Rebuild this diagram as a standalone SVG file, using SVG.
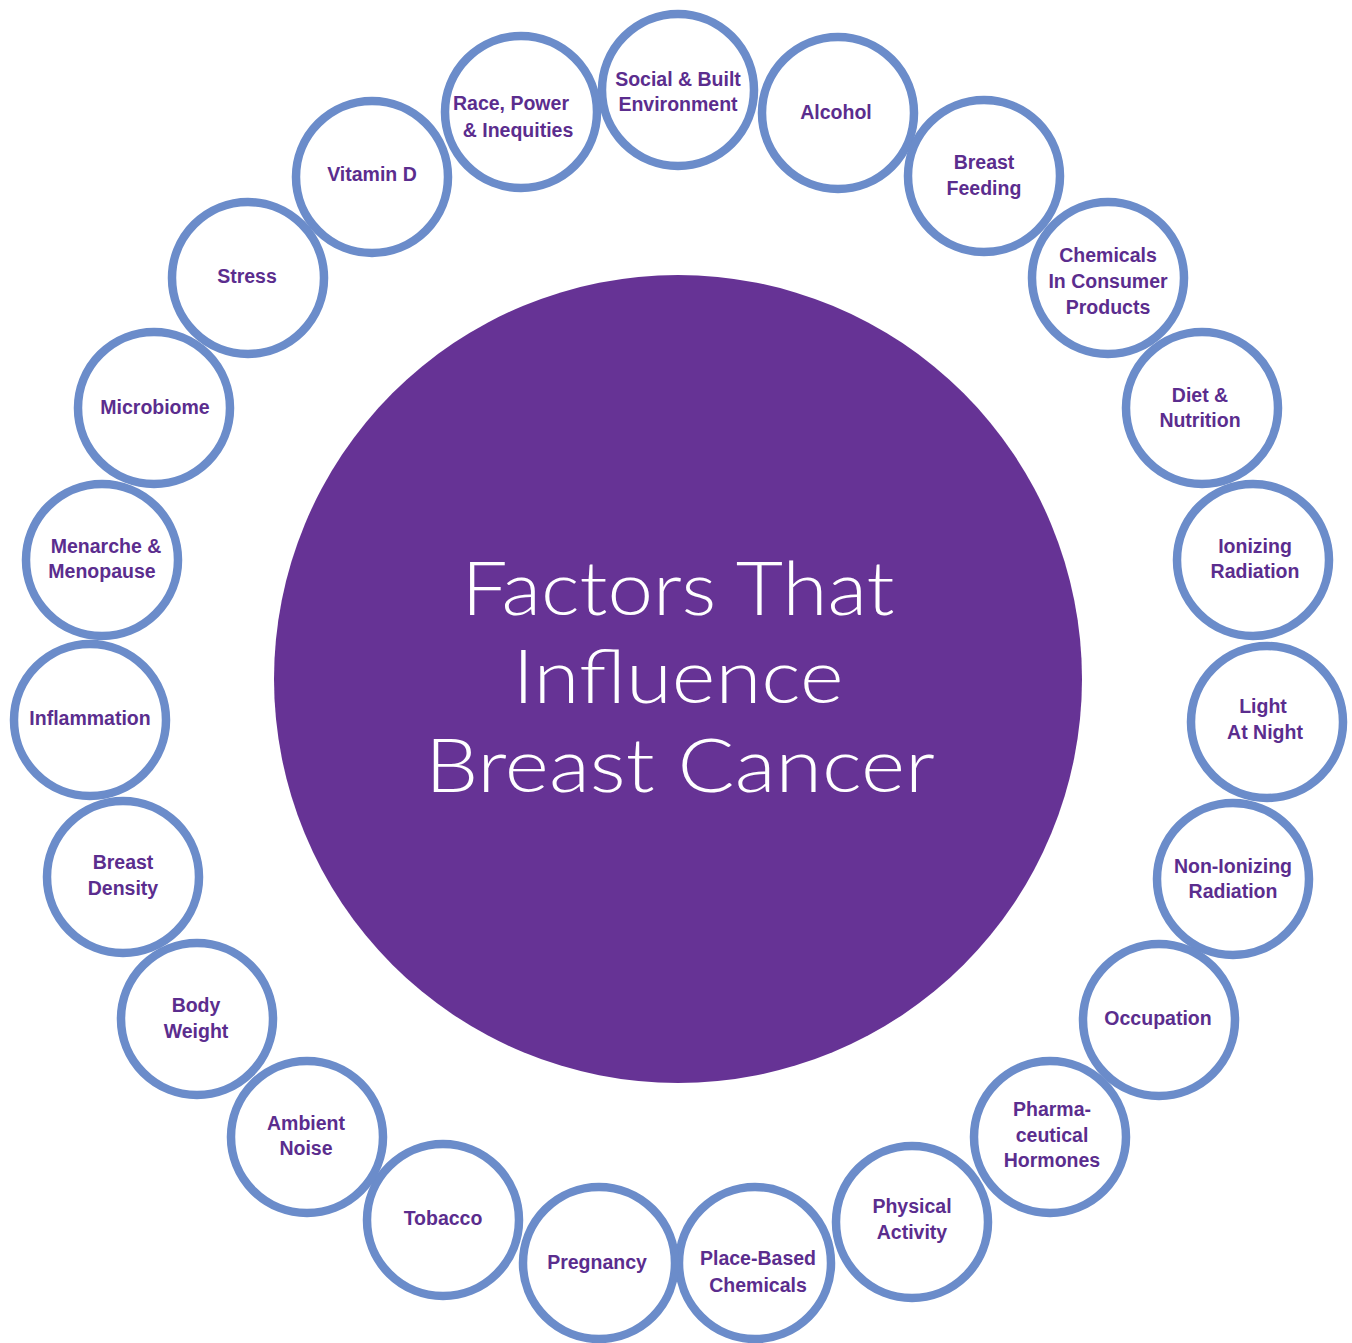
<svg xmlns="http://www.w3.org/2000/svg" width="1352" height="1343" viewBox="0 0 1352 1343">
<style>
.ring{fill:#ffffff;stroke:#6b8cca;stroke-width:8.5}
.lbl{font-family:"Liberation Sans",Arial,sans-serif;font-weight:bold;font-size:19.5px;fill:#5b2d8e;text-anchor:middle}
.title{font-family:Lato,"Open Sans","Liberation Sans",sans-serif;font-weight:300;font-size:75px;fill:#ffffff;text-anchor:middle}
</style>
<rect width="1352" height="1343" fill="#ffffff"/>
<g id="center">
<circle cx="678" cy="679" r="404" fill="#663395"/>
<text class="title"><tspan x="678" y="615" textLength="433" lengthAdjust="spacingAndGlyphs">Factors That</tspan><tspan x="678" y="703" textLength="331" lengthAdjust="spacingAndGlyphs">Influence</tspan><tspan x="680" y="792" textLength="510" lengthAdjust="spacingAndGlyphs">Breast Cancer</tspan></text>
</g>
<g id="n-social"><circle class="ring" cx="678" cy="90" r="76"/><text class="lbl"><tspan x="678" y="86">Social &amp; Built</tspan><tspan x="678" y="111">Environment</tspan></text></g>
<g id="n-alcohol"><circle class="ring" cx="838" cy="113" r="76"/><text class="lbl"><tspan x="836" y="119">Alcohol</tspan></text></g>
<g id="n-breastfeeding"><circle class="ring" cx="984" cy="176" r="76"/><text class="lbl"><tspan x="984" y="169">Breast</tspan><tspan x="984" y="195">Feeding</tspan></text></g>
<g id="n-chemicals"><circle class="ring" cx="1108" cy="278" r="76"/><text class="lbl"><tspan x="1108" y="262">Chemicals</tspan><tspan x="1108" y="288">In Consumer</tspan><tspan x="1108" y="314">Products</tspan></text></g>
<g id="n-diet"><circle class="ring" cx="1202" cy="408" r="76"/><text class="lbl"><tspan x="1200" y="402">Diet &amp;</tspan><tspan x="1200" y="427">Nutrition</tspan></text></g>
<g id="n-ionizing"><circle class="ring" cx="1253" cy="560" r="76"/><text class="lbl"><tspan x="1255" y="553">Ionizing</tspan><tspan x="1255" y="578">Radiation</tspan></text></g>
<g id="n-light"><circle class="ring" cx="1267" cy="722" r="76"/><text class="lbl"><tspan x="1263" y="713">Light</tspan><tspan x="1265" y="739">At Night</tspan></text></g>
<g id="n-nonionizing"><circle class="ring" cx="1233" cy="879" r="76"/><text class="lbl"><tspan x="1233" y="873">Non-Ionizing</tspan><tspan x="1233" y="898">Radiation</tspan></text></g>
<g id="n-occupation"><circle class="ring" cx="1159" cy="1020" r="76"/><text class="lbl"><tspan x="1158" y="1025">Occupation</tspan></text></g>
<g id="n-pharma"><circle class="ring" cx="1050" cy="1137" r="76"/><text class="lbl"><tspan x="1052" y="1116">Pharma-</tspan><tspan x="1052" y="1142">ceutical</tspan><tspan x="1052" y="1167">Hormones</tspan></text></g>
<g id="n-physical"><circle class="ring" cx="912" cy="1222" r="76"/><text class="lbl"><tspan x="912" y="1213">Physical</tspan><tspan x="912" y="1239">Activity</tspan></text></g>
<g id="n-placebased"><circle class="ring" cx="755" cy="1263" r="76"/><text class="lbl"><tspan x="758" y="1265">Place-Based</tspan><tspan x="758" y="1292">Chemicals</tspan></text></g>
<g id="n-pregnancy"><circle class="ring" cx="599" cy="1263" r="76"/><text class="lbl"><tspan x="597" y="1269">Pregnancy</tspan></text></g>
<g id="n-tobacco"><circle class="ring" cx="443" cy="1220" r="76"/><text class="lbl"><tspan x="443" y="1225">Tobacco</tspan></text></g>
<g id="n-ambient"><circle class="ring" cx="307" cy="1137" r="76"/><text class="lbl"><tspan x="306" y="1130">Ambient</tspan><tspan x="306" y="1155">Noise</tspan></text></g>
<g id="n-bodyweight"><circle class="ring" cx="197" cy="1019" r="76"/><text class="lbl"><tspan x="196" y="1012">Body</tspan><tspan x="196" y="1038">Weight</tspan></text></g>
<g id="n-density"><circle class="ring" cx="123" cy="877" r="76"/><text class="lbl"><tspan x="123" y="869">Breast</tspan><tspan x="123" y="895">Density</tspan></text></g>
<g id="n-inflammation"><circle class="ring" cx="90" cy="720" r="76"/><text class="lbl"><tspan x="90" y="725">Inflammation</tspan></text></g>
<g id="n-menarche"><circle class="ring" cx="102" cy="560" r="76"/><text class="lbl"><tspan x="106" y="553">Menarche &amp;</tspan><tspan x="102" y="578">Menopause</tspan></text></g>
<g id="n-microbiome"><circle class="ring" cx="154" cy="408" r="76"/><text class="lbl"><tspan x="155" y="414">Microbiome</tspan></text></g>
<g id="n-stress"><circle class="ring" cx="248" cy="278" r="76"/><text class="lbl"><tspan x="247" y="283">Stress</tspan></text></g>
<g id="n-vitamind"><circle class="ring" cx="372" cy="177" r="76"/><text class="lbl"><tspan x="372" y="181">Vitamin D</tspan></text></g>
<g id="n-race"><circle class="ring" cx="521" cy="112" r="76"/><text class="lbl"><tspan x="511" y="110">Race, Power</tspan><tspan x="518" y="137">&amp; Inequities</tspan></text></g>
</svg>
